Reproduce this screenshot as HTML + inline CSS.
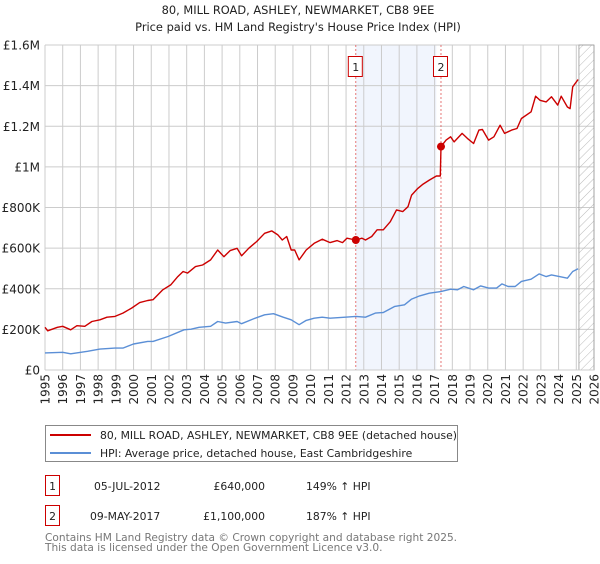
<!DOCTYPE html>
<html><head><meta charset="utf-8"><style>
body{margin:0;background:#fff;font-family:"DejaVu Sans","Liberation Sans",sans-serif}
svg text{font-family:"DejaVu Sans","Liberation Sans",sans-serif}
</style></head><body>
<svg id="c" width="600" height="560" xmlns="http://www.w3.org/2000/svg">
<defs><pattern id="hatch" width="6" height="6" patternUnits="userSpaceOnUse" patternTransform="rotate(45)"><line x1="0" y1="0" x2="0" y2="6" stroke="#bbb" stroke-width="1"/></pattern></defs>
<text x="298" y="14" text-anchor="middle" font-size="11.4" fill="#222">80, MILL ROAD, ASHLEY, NEWMARKET, CB8 9EE</text>
<text x="298" y="31" text-anchor="middle" font-size="11.4" fill="#222">Price paid vs. HM Land Registry's House Price Index (HPI)</text>
<g id="plot"></g>
<g>
<rect x="45.5" y="425.5" width="412" height="36" fill="#fff" stroke="#888"/>
<line x1="50" y1="435" x2="91" y2="435" stroke="#cc0000" stroke-width="2"/>
<text x="100" y="439" font-size="10.8" fill="#222">80, MILL ROAD, ASHLEY, NEWMARKET, CB8 9EE (detached house)</text>
<line x1="50" y1="453" x2="91" y2="453" stroke="#5b8fd6" stroke-width="2"/>
<text x="100" y="457" font-size="10.8" fill="#222">HPI: Average price, detached house, East Cambridgeshire</text>
</g>
<g font-size="10.8" fill="#222">
<rect x="45.5" y="475.5" width="14" height="20" fill="#fff" stroke="#cc0000"/><text x="52.5" y="490" text-anchor="middle">1</text>
<text x="94" y="490">05-JUL-2012</text><text x="265" y="490" text-anchor="end">£640,000</text><text x="306" y="490">149% ↑ HPI</text>
<rect x="45.5" y="505.5" width="14" height="20" fill="#fff" stroke="#cc0000"/><text x="52.5" y="520" text-anchor="middle">2</text>
<text x="90" y="520">09-MAY-2017</text><text x="265" y="520" text-anchor="end">£1,100,000</text><text x="306" y="520">187% ↑ HPI</text>
</g>
<text x="45" y="541" font-size="10.6" fill="#777">Contains HM Land Registry data © Crown copyright and database right 2025.</text>
<text x="45" y="551" font-size="10.6" fill="#777">This data is licensed under the Open Government Licence v3.0.</text>
</svg>
<script>
const yearTicks=[1995,1996,1997,1998,1999,2000,2001,2002,2003,2004,2005,2006,2007,2008,2009,2010,2011,2012,2013,2014,2015,2016,2017,2018,2019,2020,2021,2022,2023,2024,2025,2026];
const valueTicks=[0,200000,400000,600000,800000,1000000,1200000,1400000,1600000];
const valueTickLabels=["£0","£200K","£400K","£600K","£800K","£1M","£1.2M","£1.4M","£1.6M"];
const redYears=[1995.0,1995.15,1995.7,1996.0,1996.45,1996.8,1997.25,1997.65,1998.1,1998.5,1998.95,1999.4,1999.9,2000.35,2000.8,2001.1,2001.65,2002.1,2002.5,2002.8,2003.05,2003.5,2003.9,2004.35,2004.75,2005.1,2005.45,2005.85,2006.1,2006.5,2006.95,2007.4,2007.8,2008.15,2008.4,2008.65,2008.9,2009.1,2009.35,2009.75,2010.2,2010.65,2011.1,2011.5,2011.8,2012.05,2012.55,2012.9,2013.1,2013.45,2013.75,2014.1,2014.5,2014.85,2015.2,2015.5,2015.7,2016.05,2016.35,2016.7,2017.1,2017.32,2017.36,2017.65,2017.9,2018.1,2018.55,2018.85,2019.2,2019.5,2019.7,2020.05,2020.35,2020.7,2020.95,2021.35,2021.65,2021.9,2022.45,2022.7,2022.95,2023.3,2023.6,2023.95,2024.15,2024.5,2024.65,2024.8,2025.1];
const redValues=[210,193,210,215,198,218,215,239,247,260,264,280,305,332,342,346,395,419,460,485,477,509,517,542,591,558,588,599,562,599,632,673,685,665,640,657,591,591,542,591,624,644,627,637,627,649,640,649,640,657,690,690,730,788,780,804,861,894,915,935,955,955,1100,1132,1148,1123,1165,1140,1115,1181,1184,1132,1148,1205,1165,1181,1189,1238,1271,1348,1328,1320,1345,1304,1348,1295,1287,1394,1430];
const blueYears=[1995,1996,1996.45,1997.4,1998.1,1998.95,1999.4,2000.0,2000.8,2001.1,2001.95,2002.85,2003.25,2003.7,2004.35,2004.75,2005.2,2005.85,2006.1,2006.75,2007.4,2007.9,2008.45,2008.9,2009.35,2009.75,2010.2,2010.65,2011.1,2011.95,2012.55,2013.1,2013.65,2014.1,2014.75,2015.3,2015.7,2016.15,2016.7,2017.35,2017.9,2018.3,2018.65,2019.2,2019.6,2020.05,2020.5,2020.8,2021.15,2021.55,2021.9,2022.45,2022.9,2023.3,2023.6,2024.05,2024.5,2024.8,2025.1];
const blueValues=[84,87,80,92,103,108,108,128,141,141,165,198,201,210,215,239,231,239,228,251,272,277,260,247,223,244,255,260,255,260,264,260,280,283,313,321,349,365,378,386,398,395,411,395,414,403,403,424,411,411,436,447,473,460,468,460,452,485,498];
const saleYears=[2012.55,2017.36];
const saleValues=[640000,1100000];
const saleLabels=["1","2"];

const X0=45,X1=594,Y0=370,Y1=45;
const xs=y=>X0+(y-1995)/(2026-1995)*(X1-X0);
const ys=v=>Y0-v/1600000*(Y0-Y1);
const NS="http://www.w3.org/2000/svg";
const plot=document.getElementById('plot');
function mk(t,a){const e=document.createElementNS(NS,t);for(const k in a)e.setAttribute(k,a[k]);plot.appendChild(e);return e;}

let e=mk('rect',{x:xs(saleYears[0]),y:Y1,width:xs(2017.1)-xs(saleYears[0]),height:Y0-Y1,fill:'#eef3fc',opacity:0.8});


yearTicks.forEach(y=>{
 const l=mk('line',{x1:xs(y),x2:xs(y),y1:Y1,y2:Y0,stroke:'#cccccc','stroke-width':1});
 
 
 const t=mk('text',{x:0,y:0,'font-size':12,fill:'#222','text-anchor':'end',transform:`translate(${xs(y)+4.5},374) rotate(-90)`});
 t.textContent=y;
 
 
});
valueTicks.forEach((v,i)=>{
 const l=mk('line',{x1:X0,x2:X1,y1:ys(v),y2:ys(v),stroke:'#cccccc','stroke-width':1});
 
 
 const t=mk('text',{x:40,y:ys(v)+4.5,'font-size':12,fill:'#222','text-anchor':'end'});
 t.textContent=valueTickLabels[i];
 
 
});
e=mk('rect',{x:xs(2025.15),y:Y1,width:X1-xs(2025.15),height:Y0-Y1,fill:'url(#hatch)',stroke:'#999','stroke-width':0.8});


saleYears.forEach((y,i)=>{
 const l=mk('line',{x1:xs(y),x2:xs(y),y1:Y1,y2:Y0,stroke:'#e05555','stroke-width':0.8,'stroke-dasharray':'2,2'});
 
 
 const r=mk('rect',{x:xs(y)-7.5,y:56.5,width:14,height:20,fill:'#fff',stroke:'#cc0000'});
 
 
 const t=mk('text',{x:xs(y),y:71,'font-size':11,fill:'#222','text-anchor':'middle'});
 t.textContent=saleLabels[i];
 
 
});
function path(xa,va,col,name){
 const d=xa.map((y,i)=>(i?'L':'M')+xs(y).toFixed(1)+','+ys(va[i]*1000).toFixed(1)).join('');
 const p=mk('path',{d:d,fill:'none',stroke:col,'stroke-width':1.4,'stroke-linejoin':'round'});
 
 
}
path(blueYears,blueValues,'#5b8fd6','hpi-line');
path(redYears,redValues,'#cc0000','price-paid-line');
saleYears.forEach((y,i)=>{
 const c=mk('circle',{cx:xs(y),cy:ys(saleValues[i]),r:4,fill:'#cc0000'});
 
 
});
const ax=mk('line',{x1:X0,x2:X1,y1:Y0,y2:Y0,stroke:'#ccc'});


</script>
</body></html>
